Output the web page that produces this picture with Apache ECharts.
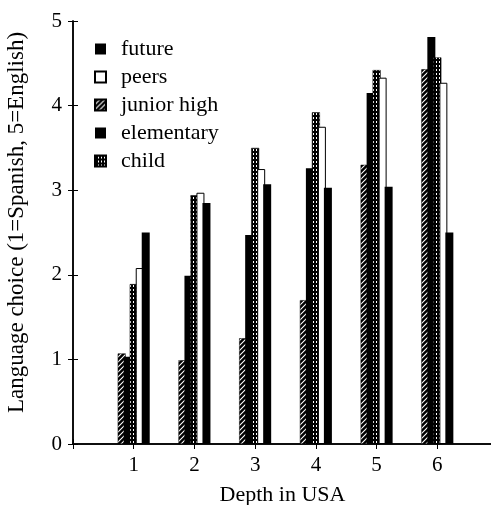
<!DOCTYPE html>
<html>
<head>
<meta charset="utf-8">
<script src="https://cdn.jsdelivr.net/npm/echarts@6/dist/echarts.min.js"></script>
<style>
  html, body { margin: 0; padding: 0; background: #fff; }
  #chart { width: 491px; height: 505px; }
</style>
</head>
<body>
<div id="chart"></div>
<script>
const depths = [1, 2, 3, 4, 5, 6]
const yTicks = [0, 1, 2, 3, 4, 5]
const legendOrder = ['future', 'peers', 'junior high', 'elementary', 'child']

// bars left to right inside each group
const juniorHigh = [1.07, 0.99, 1.25, 1.70, 3.30, 4.43]
const elementary = [1.03, 1.99, 2.47, 3.26, 4.15, 4.81]
const child = [1.89, 2.94, 3.50, 3.92, 4.42, 4.57]
const peers = [2.08, 2.97, 3.25, 3.75, 4.33, 4.27]
const future = [2.50, 2.85, 3.07, 3.03, 3.04, 2.50]

const font = "'Liberation Serif', 'Times New Roman', serif"

function makePattern(w, h, draw) {
  const c = document.createElement('canvas')
  c.width = w
  c.height = h
  const ctx = c.getContext('2d')
  draw(ctx)
  return { image: c, repeat: 'repeat' }
}

// diagonal hatching, mostly black with thin white slashes
const hatch = makePattern(5, 5, ctx => {
  ctx.fillStyle = '#000'
  ctx.fillRect(0, 0, 5, 5)
  ctx.strokeStyle = '#fff'
  ctx.lineWidth = 1.1
  ctx.beginPath()
  ctx.moveTo(-1, 6); ctx.lineTo(6, -1)
  ctx.moveTo(-1, 1); ctx.lineTo(1, -1)
  ctx.moveTo(4, 6); ctx.lineTo(6, 4)
  ctx.stroke()
})

// black with small white dots
const dots = makePattern(3, 4, ctx => {
  ctx.fillStyle = '#000'
  ctx.fillRect(0, 0, 3, 4)
  ctx.fillStyle = '#fff'
  ctx.fillRect(1, 1, 1, 2)
})

function pairs(vals) {
  return depths.map((d, i) => [d, vals[i]])
}

function bar(name, vals, style) {
  return {
    name: name,
    type: 'bar',
    data: pairs(vals),
    barWidth: 8,
    barGap: '-25%',
    itemStyle: style
  }
}

const chart = echarts.init(document.getElementById('chart'))
chart.setOption({
  animation: false,
  backgroundColor: '#fff',
  textStyle: { fontFamily: font, color: '#000' },
  grid: { left: 73, top: 21, right: -1, bottom: 61, outerBoundsMode: 'none', containLabel: false },
  legend: {
    data: legendOrder,
    orient: 'vertical',
    left: 89,
    top: 33,
    itemWidth: 31,
    itemHeight: 11,
    itemGap: 6,
    icon: 'path://M0,0H10V10H0Z',
    textStyle: { fontFamily: font, fontSize: 22, color: '#000' }
  },
  xAxis: [{
    type: 'value',
    min: 0,
    max: 6.9,
    interval: 1,
    name: 'Depth in USA',
    nameLocation: 'middle',
    nameGap: 40,
    nameTextStyle: { fontFamily: font, fontSize: 22, color: '#000' },
    axisLine: { lineStyle: { color: '#000', width: 1.5 } },
    axisTick: { inside: true, length: 5, lineStyle: { color: '#000' } },
    axisLabel: {
      margin: 11,
      fontFamily: font,
      fontSize: 21,
      color: '#000',
      formatter: v => (depths.indexOf(v) >= 0 ? String(v) : '')
    },
    splitLine: { show: false }
  }, {
    type: 'value',
    position: 'top',
    min: 0,
    max: 6.9,
    interval: 1,
    axisLine: { show: true, lineStyle: { color: '#000', width: 1.5 } },
    axisTick: { show: true, inside: true, length: 5, lineStyle: { color: '#000' } },
    axisLabel: { show: false },
    splitLine: { show: false }
  }],
  yAxis: [{
    type: 'value',
    min: yTicks[0],
    max: yTicks[yTicks.length - 1],
    interval: 1,
    name: 'Language choice (1=Spanish, 5=English)',
    nameLocation: 'middle',
    nameGap: 45,
    nameTextStyle: { fontFamily: font, fontSize: 23, color: '#000', padding: [0, 0, 0, 20] },
    axisLine: { show: true, lineStyle: { color: '#000', width: 1.5 } },
    axisTick: { show: true, inside: true, length: 5, lineStyle: { color: '#000' } },
    axisLabel: { margin: 11, fontFamily: font, fontSize: 21, color: '#000' },
    splitLine: { show: false }
  }, {
    type: 'value',
    position: 'right',
    min: 0,
    max: 5,
    interval: 1,
    axisLine: { show: true, lineStyle: { color: '#000', width: 1.5 } },
    axisTick: { show: true, inside: true, length: 5, lineStyle: { color: '#000' } },
    axisLabel: { show: false },
    splitLine: { show: false }
  }],
  series: [
    bar('junior high', juniorHigh, { color: hatch, borderColor: '#000', borderWidth: 0.5 }),
    bar('elementary', elementary, { color: '#000' }),
    bar('child', child, { color: dots, borderColor: '#000', borderWidth: 0.5 }),
    bar('peers', peers, { color: '#fff', borderColor: '#000', borderWidth: 1 }),
    bar('future', future, { color: '#000' })
  ]
})
</script>
</body>
</html>
